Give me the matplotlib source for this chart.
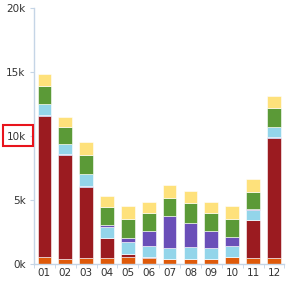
import numpy as np
import matplotlib
matplotlib.use('Agg')
import matplotlib.pyplot as plt
from matplotlib.patches import Rectangle

# months on the x axis
months = ['01', '02', '03', '04', '05', '06', '07', '08', '09', '10', '11', '12']

# stacked series, bottom to top (in units)
orange = [520, 390, 500, 500, 520, 440, 420, 420, 390, 550, 500, 500]
dark_red = [11040, 8130, 5540, 1560, 260, 80, 0, 0, 0, 0, 2940, 9320]
navy = [80, 80, 80, 0, 0, 0, 0, 0, 0, 0, 0, 80]
light_blue = [830, 750, 930, 850, 920, 910, 850, 930, 880, 880, 780, 830]
purple = [0, 0, 0, 110, 360, 1150, 2480, 1880, 1310, 660, 80, 0]
green = [1430, 1330, 1490, 1460, 1430, 1380, 1430, 1510, 1380, 1430, 1350, 1430]
yellow = [940, 820, 960, 830, 1040, 910, 990, 990, 860, 1010, 990, 970]

series = [orange, dark_red, navy, light_blue, purple, green, yellow]
colors = ['#df5a0a', '#9b1b20', '#3c3ca8', '#93d5ea', '#6a4fb8', '#5b9a37', '#fee17b']

yticks = [0, 5000, 10000, 15000, 20000]
ylabels = ['0k', '5k', '10k', '15k', '20k']

fig = plt.figure(figsize=(2.88, 2.82), dpi=100)
ax = fig.add_axes([0.118, 0.0638, 0.8694, 0.9078])

x = np.arange(len(months))
bottom = np.zeros(len(months))
for vals, c in zip(series, colors):
	vals = np.array(vals, dtype=float)
	ax.bar(x, vals, width=0.66, bottom=bottom, color=c, edgecolor='white', linewidth=0.4)
	bottom += vals

ax.set_xlim(-0.5, 11.5)
ax.set_ylim(0, 20000)

axis_col = '#c5d5e6'
for s in ['top', 'right']:
	ax.spines[s].set_visible(False)
ax.spines['left'].set_color(axis_col)
ax.spines['bottom'].set_color(axis_col)
ax.spines['left'].set_linewidth(1.0)
ax.spines['bottom'].set_linewidth(1.0)

ax.set_yticks(yticks)
ax.set_yticklabels(ylabels)
ax.set_xticks(x)
ax.set_xticklabels(months)
ax.set_xticks(np.arange(-0.5, 12, 1.0), minor=True)
ax.tick_params(axis='y', colors=axis_col, labelcolor='#333333', labelsize=7.5, length=3, pad=3)
ax.tick_params(axis='x', which='major', length=0, labelcolor='#333333', labelsize=7.5, pad=3)
ax.tick_params(axis='x', which='minor', colors=axis_col, length=3)

# red box round the 10k label
fig.patches.append(Rectangle((3 / 288, 1 - 146 / 282), 30 / 288, 21 / 282,
	transform=fig.transFigure, fill=False, edgecolor='#e8141c', linewidth=1.5))

fig.savefig('out.png', dpi=100)
